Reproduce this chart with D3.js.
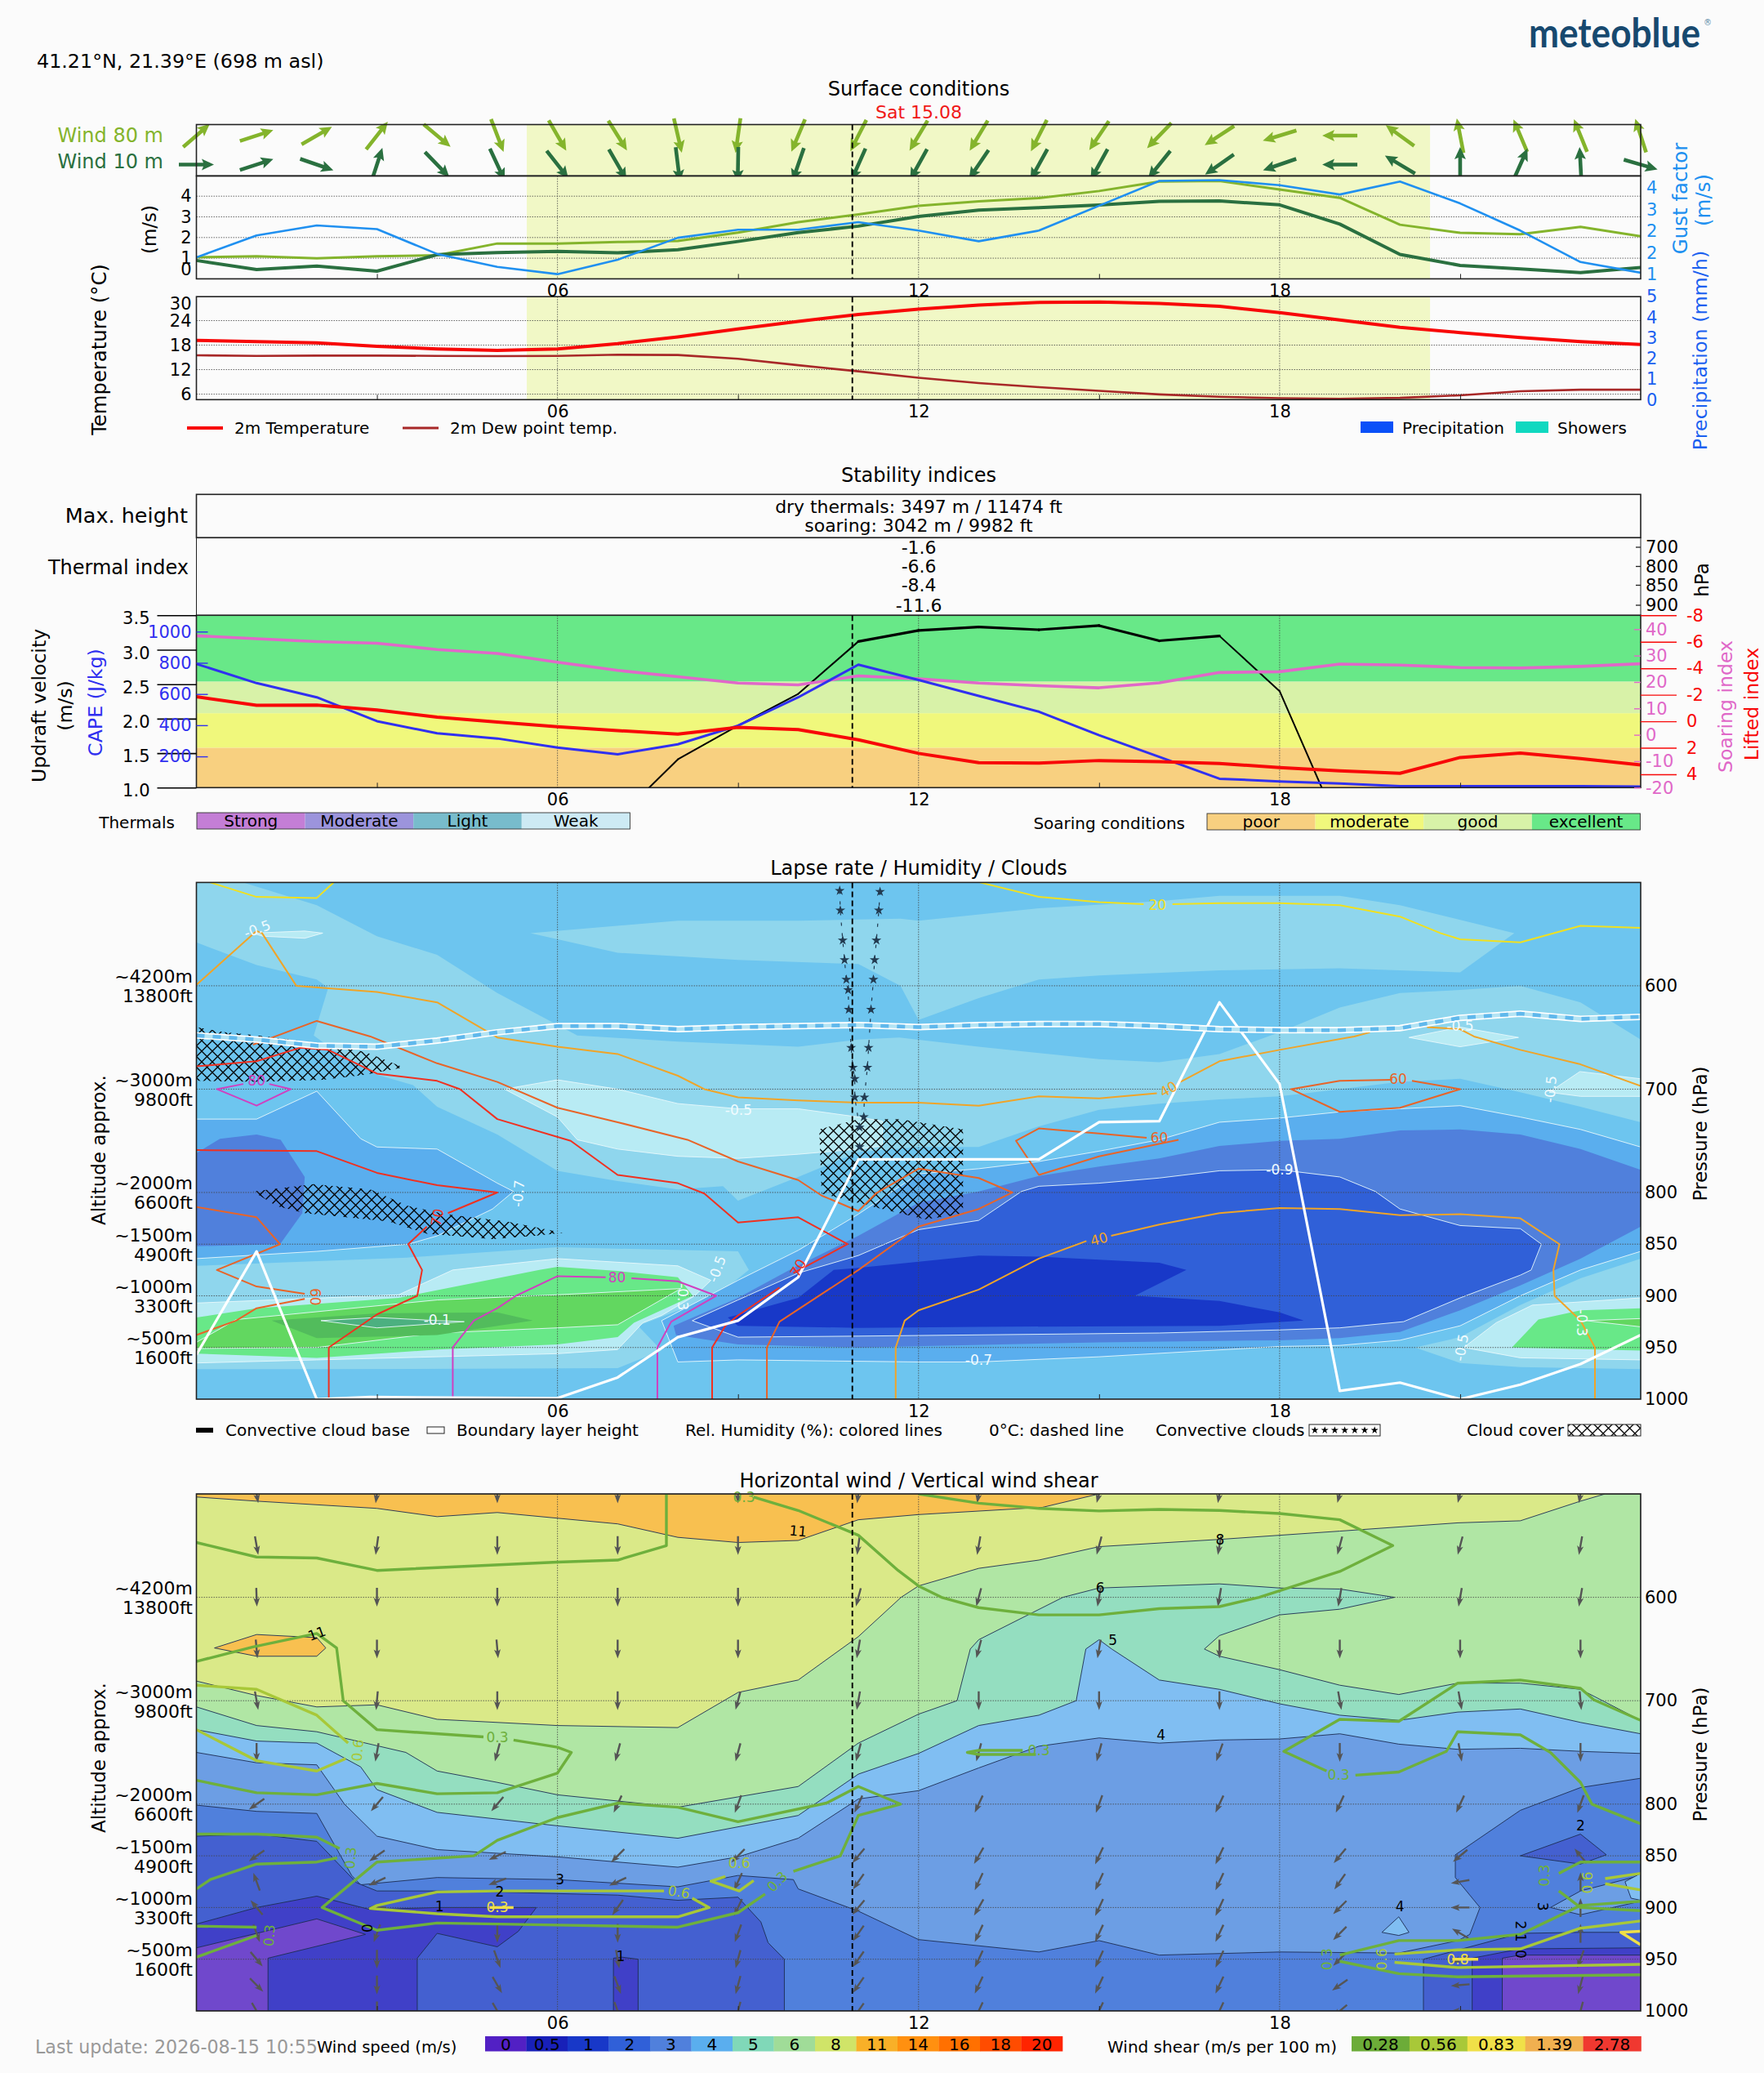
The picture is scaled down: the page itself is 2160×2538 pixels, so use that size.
<!DOCTYPE html>
<html><head><meta charset="utf-8">
<script src="https://cdn.jsdelivr.net/npm/d3@7"></script>
<style>html,body{margin:0;padding:0;background:#fbfbfb}svg{display:block}text{font-family:"DejaVu Sans",sans-serif}</style>
</head><body><div id="chart"></div>
<script>
// ---------- hourly series ----------
const hours = d3.range(0,25);
const dir80 = [49,72,60,38,130,159,150,148,167,188,203,207,211,211,207,214,224,237,253,270,306,349,337,338,342];
const dir10 = [90,72,109,18,136,155,142,150,173,181,199,204,209,214,209,209,219,235,251,270,301,0,24,357,106];
const wind80 = [1.04,1.09,0.99,1.09,1.14,1.71,1.71,1.78,1.83,2.24,2.74,3.12,3.53,3.75,3.91,4.25,4.71,4.74,4.32,3.92,2.62,2.23,2.16,2.52,2.06];
const wind10 = [0.89,0.45,0.62,0.37,1.17,1.27,1.33,1.26,1.41,1.81,2.24,2.55,3.02,3.33,3.44,3.57,3.75,3.77,3.58,2.65,1.18,0.65,0.48,0.30,0.55];
const gust = [1.59,2.35,2.70,2.57,1.71,1.26,1.01,1.51,2.27,2.55,2.55,2.81,2.52,2.15,2.52,3.38,4.24,4.27,4.09,3.77,4.22,3.46,2.52,1.43,1.06];
const temp2m = [19.14,18.86,18.57,17.71,17.07,16.71,17.07,18.36,20,21.93,23.79,25.5,26.79,27.79,28.43,28.57,28.21,27.5,25.93,24.14,22.36,21.07,19.86,18.86,18.14];
const dew2m = [15.5,15.36,15.43,15.43,15.36,15.29,15.36,15.64,15.57,14.64,13.07,11.57,10,8.71,7.71,6.79,5.93,5.36,5,4.86,5.07,5.71,6.71,7.07,7.07];
const capeVals = [793,670,579,426,348,315,257,214,278,397,579,788,690,588,487,336,197,57,40,26,10,9,9,9,7];
const soaringVals = [37.5,36.4,35.3,34.7,32.3,30.8,27.5,24.4,22,19.6,18.9,22.3,21.2,19.6,18.6,17.8,19.7,23.6,23.9,26.8,26.4,25.5,25.3,25.9,26.9];
const liftedVals = [-1.85,-1.21,-1.23,-0.86,-0.31,0.06,0.41,0.70,0.97,0.45,0.62,1.40,2.42,3.12,3.16,2.96,3.04,3.18,3.49,3.74,3.92,2.73,2.40,2.81,3.29];
const updraftVals = [0,0,0,0,0,0,0,0.55,1.41,1.90,2.36,3.12,3.28,3.33,3.29,3.35,3.13,3.20,2.40,0.4,0,0,0,0,0];
const nowHour = 10.9, dayStart = 5.49, dayEnd = 20.5;
const thermalIdx = [["-1.6",700],["-6.6",800],["-8.4",850],["-11.6",900]];
const soarBands = [[1.0,1.58,"#f8d080"],[1.58,2.08,"#f0f87c"],[2.08,2.54,"#d8f2a8"],[2.54,3.5,"#68e888"]];
const thermalsLegend = [["Strong","#c47ed6"],["Moderate","#9c94dc"],["Light","#78bccc"],["Weak","#cdeaf4"]];
const soarLegend = [["poor","#f8d080"],["moderate","#f0f87c"],["good","#d8f2a8"],["excellent","#68e888"]];
const altTicks = [600,700,800,850,900,950];
const altM = ["~4200m","~3000m","~2000m","~1500m","~1000m","~500m"];
const altF = ["13800ft","9800ft","6600ft","4900ft","3300ft","1600ft"];
const pTicks = [600,700,800,850,900,950,1000];

// ---------- lapse rate regions: [hour, hPa] ----------
const cBase="#6dc5ef",cL1="#8fd6ed",cL2="#b8ebf4",cG1="#68e888",cG2="#62d760",cG3="#52bc5c",cG4="#4cb080",cB1="#5aaeee",cB2="#5080dc",cB3="#3060d8",cB4="#1838c8";
const lrUpper=[[5.55,549],[8,537],[10,537],[11.7,535],[12,537],[14,525],[16,518],[17,513],[19,513],[20,522],[21.9,549],[21,587],[19,583],[17,585],[15,590],[14,594],[13,612],[12,633],[11.7,600],[11,579],[9,575],[7,568]];
const lrDiag=[[0,500],[.78,500],[2,522],[3,552],[4,570],[5,607],[6.33,648],[8,654],[10,659],[11,652],[11.68,650],[13,659],[15,671],[16,674],[17,666],[18,645],[19,621],[20,607],[21,604],[22,600],[23,616],[24,652],[24,732],[23,717],[22,703],[21,690],[20,693],[19,700],[18,707],[17,710],[16,714],[15,720],[14,736],[13,756],[12,756],[11,761],[10,785],[9,808],[8.75,794],[8,797],[7,789],[6,779],[5,744],[4,717],[3.6,696],[3,686],[2.27,662],[1.95,648],[2.19,602],[2,594],[1,580],[0,558]];
const lrBand=[[0,871],[3.5,863],[6,853],[9,857],[9.18,875],[8.64,900],[7.34,929],[7.73,953],[7,970],[2,971],[0,971]];
const lrRightL1=[[24,864],[23,883],[22,909],[21,940],[20.25,950],[21,965],[22,969],[24,971]];
const lrLens=[[5.12,700],[6,691],[7,700],[8,714],[9,719],[10,719],[11,727],[11.4,731],[11.4,755],[11,758],[10,763],[9,767],[8,765],[7,758],[6.33,749],[6,727]];
const lrBandL2=[[0,907],[3.36,899],[4.26,875],[6,864],[8,871],[8.55,885],[8.28,900],[7.73,919],[7.42,926],[7,952],[6,956],[2,962],[0,965]];
const lrRightL2=[[24,902],[22.2,909],[21.6,926],[21.06,950],[22,960],[24,962]];
const lrSmallA=[[20.15,650],[21,640],[21.97,650],[21,659]];
const lrSmallB=[[22.48,703],[22.99,683],[24,690],[24,707],[23,707]];
const lrSmallC=[[.94,549],[1.8,547],[2.1,549],[1.8,554],[1.1,552]];
const lrGreen1=[[0,921],[1,912],[3.36,902],[5.7,875],[6,872],[7,876],[8,882],[8.25,900],[7.27,926],[7,940],[6,947],[4,952],[2,960],[0,956]];
const lrGreen2=[[0,945],[.66,923],[4,904],[6,899],[8.05,893],[7,928],[6,931],[4,936],[2,950],[0,951]];
const lrGreen3=[[1.25,924],[3,917],[5,916],[5.59,924],[4,938],[2,941]];
const lrGreen4=[[2.07,924],[3,921],[4,924],[4.45,925],[3,931]];
const lrRightG1=[[24,912],[23,914],[22.3,923],[21.86,950],[24,953]];
const lrRightG2=[[24,922],[23.09,924],[24,930]];
const lrLeftB1=[[0,729],[1,729],[2,702],[2.73,748],[3,756],[4,758],[5,791],[5.27,799],[4.92,816],[4,842],[3.52,850],[2,857],[0,864]];
const lrLeftB2=[[0,762],[.39,748],[1,744],[1.4,749],[1.8,785],[1.76,820],[1.39,850],[0,852]];
const lrMidB1=[[7.73,924],[9,885],[10,856],[11,821],[12,782],[13,777],[14,770],[15,760],[16,749],[17,732],[18,728],[19,722],[20,719],[21,716],[22,727],[23,739],[24,756],[24,857],[23,875],[22,900],[21,929],[20,943],[19,948],[18,949],[15,959],[13,964],[12,964],[9,962],[8,964]];
const lrMidB2=[[7.93,929],[9,902],[9.92,873],[11,842],[12,810],[13,799],[14,784],[15,775],[16,767],[17,755],[18,750],[19,748],[20,740],[21,739],[22,744],[23,758],[24,778],[24,833],[23,864],[22,890],[21,914],[20,935],[19,941],[18,943],[15,945],[11,950],[9,947],[7.97,938]];
const lrMidB3=[[8.24,924],[9,904],[10,878],[11,861],[12,836],[13,827],[13.71,799],[14,794],[15,791],[16,786],[17,779],[18,778],[19,785],[19.59,799],[20,816],[21,832],[22,835],[22.35,850],[22.18,875],[22,880],[21,902],[20.06,925],[19,931],[18,933],[16,936],[11,939],[9,940]];
const lrMidB4=[[8.83,921],[10,902],[10.59,875],[11,873],[13,861],[14,862],[16,868],[16.45,875],[15.59,900],[17,905],[18,916],[18.4,924],[17,929],[13,930],[11,931],[10,930],[9,929]];
const lapseLayers=[[lrUpper,cL1,0],[lrDiag,cL1,0],[lrBand,cL1,0],[lrRightL1,cL1,0],[lrLens,cL2,1],[lrBandL2,cL2,1],[lrRightL2,cL2,1],[lrSmallA,cL2,1],[lrSmallB,cL2,1],[lrSmallC,cL2,1],[lrGreen1,cG1,0],[lrRightG1,cG1,0],[lrGreen2,cG2,1],[lrRightG2,cG2,1],[lrGreen3,cG3,0],[lrGreen4,cG4,1],[lrLeftB1,cB1,1],[lrLeftB2,cB2,0],[lrMidB1,cB1,1],[lrMidB2,cB2,0],[lrMidB3,cB3,1],[lrMidB4,cB4,0]];
const lapseLabels=[["-0.5",1.01,545,-20],["-0.5",9.01,720,0],["-0.7",5.35,801,-85],["-0.1",4,923,0],["-0.3",8.08,901,90],["-0.5",8.65,874,-70],["-0.5",21,639,0],["-0.5",22.5,700,-85],["-0.9",18,778,0],["-0.7",13,962,0],["-0.5",21.02,950,-80],["-0.3",23.02,926,90]];

// ---------- relative humidity isolines ----------
const rhY1=[[.23,500],[1,514],[2,515],[2.28,500]];
const rhY2=[[13.02,500],[14,514],[15,519],[15.74,521]];
const rhY3=[[16.22,521],[17,520],[18,520],[19,522],[20,533],[20.67,549],[21,555],[22,558],[23,542],[24,544]];
const rhO1=[[0,599],[1,547],[1.09,549],[1.66,600],[3,606],[4,616],[5,650],[6,659],[7,666],[8,687],[8.44,700],[9,708],[10,711],[11,713],[12,713],[13,716],[14,707],[15,709],[15.96,704]];
const rhO2=[[16.35,693],[17,673],[18,662],[19.24,649],[19.5,645]];
const rhO3=[[20.45,640],[21,642],[21.23,649],[22,662],[23,676],[24,697]];
const rhO4=[[11.62,1000],[11.62,950],[11.77,924],[12,914],[13,894],[14,864],[14.79,847]];
const rhO5=[[15.2,842],[16,831],[17,820],[18,815],[19,816],[20,822],[21,821],[22,825],[22.65,850],[22.55,875],[22.57,900],[23,924],[23.24,950],[23.24,1000]];
const rh50=[[.94,657],[2,634],[2.89,649],[4,675],[5,693],[6,718],[7,732],[8.16,749],[9,770],[10,788],[10.39,803],[11,818],[11.29,801],[12,777],[13,786],[13.56,800],[13,816],[12,833],[11,875],[9.69,925],[9.48,950],[9.48,1000]];
const rhR1=[[0,678],[1,673],[1.72,660],[2.19,662],[3,685],[4,692],[4.38,700],[5,729],[6.22,750],[7,783],[8,791],[8.44,801],[9,829],[10,824],[10.82,850],[9.92,878]];
const rhR2=[[9.69,892],[9,919],[8.79,929],[8.57,950],[8.57,1000]];
const rhR3=[[0,759],[2,760],[3,781],[4,793],[5,800],[4.18,820]];
const rhR4=[[3.83,833],[3.52,850],[3.75,875],[3.67,900],[3,918],[2.2,950],[2.2,1000]];
const rh60A=[[1.8,898],[1,891],[.34,875],[1.39,850],[1,824],[0,814]];
const rh60B=[[1.8,903],[1,912],[.66,924],[0,938]];
const rh60C=[[15.79,747],[15,743],[14,738],[13.62,750],[14,783],[15,765],[16.32,749]];
const rh60D=[[19.87,691],[19,692],[18.19,700],[19,722],[20,718],[21,700],[20.2,692]];
const rhM1=[[1.21,695],[1.57,700],[1,716],[.34,700],[.78,695]];
const rhM2=[[7.66,1000],[7.66,950],[7.89,925],[8.64,900],[8,886],[7.23,883]];
const rhM3=[[6.8,882],[6,881],[5.31,900],[5,912],[4.61,924],[4.26,950],[4.26,1000]];
const cY="#f0e020",cO="#f0a428",cOR="#e86428",cR="#f03020",cM="#d040c0";
const rhLines=[[rhY1,cY],[rhY2,cY],[rhY3,cY],[rhO1,cO],[rhO2,cO],[rhO3,cO],[rhO4,cO],[rhO5,cO],[rh50,cOR],[rhR1,cR],[rhR2,cR],[rhR3,cR],[rhR4,cR],[rh60A,cOR],[rh60B,cOR],[rh60C,cOR],[rh60D,cOR],[rhM1,cM],[rhM2,cM],[rhM3,cM]];
const rhLabels=[["20",15.97,522,0,cY],["40",16.15,700,-30,cO],["40",15,845,-15,cO],["60",19.97,690,0,cOR],["60",16,747,0,cOR],["60",1.98,901,90,cOR],["70",10,873,-60,cR],["70",4,824,-80,cR],["80",6.99,882,0,cM],["80",1,692,0,cM]];
const blh=[[0,957],[1,857],[2,1000],[2.89,998],[6,999],[7,979],[8,940],[9,924],[10,882],[11,768],[12,768],[13,768],[14,768],[15,732],[16,731],[17,616],[18,695],[19,992],[20,984],[21,1000],[22,986],[23,966],[24,938]];
const freezing=[[0,648],[1,652],[2,658],[3,659],[4,653],[5,645],[6,639],[7,639],[8,642],[9,640],[10,639],[11,638],[12,640],[13,638],[14,637],[15,637],[16,639],[17,642],[18,643],[19,643],[20,641],[21,631],[22,627],[23,632],[24,630]];
const cloudA=[[0,640],[.47,645],[1.02,648],[1.95,655],[2.81,664],[3.44,679],[2.81,686],[2.11,691],[1.02,693],[0,692]];
const cloudB=[[.94,799],[1.95,792],[2.89,797],[3.52,813],[4.14,821],[5.16,828],[6.09,839],[5.63,842],[4.92,845],[3.83,840],[3.2,828],[1.8,820],[1.33,813]];
const cloudC=[[10.35,739],[11,729],[11.7,729],[12.74,739],[12.74,821],[12.11,826],[11.33,815],[10.39,801]];
const starsLeft=[[10.69,508],[10.7,527],[10.74,556],[10.77,575],[10.8,594],[10.83,604],[10.84,623],[10.88,660],[10.91,679],[10.94,690],[10.94,708],[11.02,737],[11.02,756]];
const starsRight=[[11.36,509],[11.34,527],[11.3,556],[11.27,575],[11.25,594],[11.21,623],[11.17,660],[11.15,679],[11.1,708],[11.09,727]];

// ---------- wind speed regions ----------
const c8="#dae988",c11="#f8c050",c6="#b0e6a4",c5="#94dec0",c4="#80bef2",c3="#6c9ee4",c2="#5080dc",c1="#4460d0",c05="#4040c8",c0="#7048cc";
const wsOrange=[[0,500],[0,503],[1,507],[3,514],[4,522],[5,518],[7,529],[8,542],[9,547],[10,545],[11,525],[12,520],[14.06,513],[15,500]];
const wsOrangeB=[[.3,649],[1,636],[2,639],[2.15,649],[2,657],[1,657]];
const ws6=[[0,681],[1,695],[2,706],[3,704],[4,718],[6,724],[8,726],[9,692],[10,680],[11,638],[11.71,600],[12,589],[13,572],[14,564],[15,551],[17,544],[19,536],[20.96,528],[22,526],[23,507],[23.41,500],[24,500],[24,1000],[0,1000]];
const ws5=[[0,706],[1,724],[2,730],[3.48,750],[4,768],[5,779],[6,791],[8,803],[9,793],[10,783],[11,741],[12,713],[12.64,700],[12.86,650],[13,641],[14.4,600],[15,591],[17,587],[18,591],[19,592],[19.91,600],[19,611.5],[18,617],[17,637],[16.75,650],[17,657],[18,670],[19,685],[19.98,694],[20.96,683],[22,683],[23,689],[24,719],[24,1000],[0,1000]];
const ws4=[[0,728],[1,739],[2,741],[2.73,764],[3,786],[4,808],[6,821],[8,833],[10,811],[11,771],[12,751],[13,724],[14,714],[14.62,700],[14.78,650],[15,641],[15.21,650],[16,680],[17,689],[18,703],[19,714],[19.98,719],[20.96,711],[22,708],[23,721],[24,732],[24,1000],[0,1000]];
const ws3=[[0,750],[1,760],[2,762],[2.46,800],[3,831],[4,844],[6,851],[8,861],[9,851],[10,833],[11,795],[12,787],[13,765],[14,744],[15,736],[16,741],[17,738],[18,737],[19,732],[19.98,742],[20.96,747],[22,746],[23,749],[24,751],[24,1000],[0,1000]];
const ws2=[[0,801],[1,807],[2,809],[2.58,869],[2.73,878],[4,871],[6,873],[8,880],[9,869],[9.92,873],[10,882],[11,903.5],[12,931],[14,943],[15,932],[16,946],[18,943],[19.98,944],[20.96,932],[21.16,926],[21.33,900],[20.92,871],[20.92,849],[22,806],[23,784],[24,775],[24,1000],[0,1000]];
const ws1a=[[0,831],[1,829],[2,836],[2.66,876],[3,884],[4,884],[5,885],[7,888],[8,893],[9,890],[9.38,914],[9.5,934],[9.77,950],[9.77,1000],[0,1000]];
const ws1b=[[20.39,950],[22,925],[23,924],[24,924],[24,1000],[20.39,1000]];
const ws05a=[[0,916],[1,900],[2,889],[2.89,902],[4,900],[5.65,900],[5.35,923],[5,938],[4,925],[3.67,949],[3.67,1000],[0,1000]];
const ws05b=[[6.93,949],[7.07,948],[7.34,950],[7.34,1000],[6.93,1000]];
const ws05c=[[21.2,949],[22,940],[24,939],[24,1000],[21.2,1000]];
const ws0a=[[0,939],[2,911],[2.81,926],[1.19,949],[1.19,1000],[0,1000]];
const ws0b=[[21.7,949],[22,946],[24,946],[24,1000],[21.7,1000]];
const wsIsl2=[[22,850],[23,829],[23.43,849],[23,858]];
const wsIsl3=[[22.5,900],[23,884],[24,869],[24,894],[23,907]];
const wsIsl4a=[[23.74,875],[24,867],[24,893],[23.84,891]];
const wsIsl4b=[[19.7,924],[19.98,909],[20.15,924],[19.98,927]];
const windLayers=[[wsOrange,c11],[wsOrangeB,c11],[ws6,c6],[ws5,c5],[ws4,c4],[ws3,c3],[ws2,c2],[wsIsl2,c1],[wsIsl3,c3],[wsIsl4a,c4],[wsIsl4b,c4],[ws1a,c1],[ws1b,c1],[ws05a,c05],[ws05b,c05],[ws05c,c05],[ws0a,c0],[ws0b,c0]];
const windLabels=[["11",10,536,5],["11",2,635,-20],["3",6.04,873,0],["2",5.04,885,0],["1",4.04,899,0],["0",2.83,920,90],["1",7.05,947,0],["8",17.01,544,0],["6",15.02,591,0],["5",15.23,641,0],["4",16.03,733,0],["2",23,821,0],["4",20,899,0],["3",22.37,899,90],["2",22,917,90],["1",22,929,90],["0",22,945,90]];

// ---------- wind shear isolines ----------
const cS3="#6eb03c",cS6="#a8c838",cS8="#f0e048";
const sA=[[0,547],[1,561],[2,562],[3,574],[6,566],[7,564],[7.81,550],[7.81,500]];
const sB=[[9.26,503],[10,516],[11,540],[11.66,574],[12,589],[12.38,600],[13,610],[14,617],[15,617],[16,611],[17,609],[17.66,600],[19,575],[19.88,550],[19,525],[18,519],[17,516],[16,515],[15,516.5],[14,514],[13,509],[12,500]];
const sC1=[[0,662],[.94,648],[2,635],[2.33,649],[2.44,700],[3,728],[4.77,735]];
const sC2=[[5.27,738],[6,745],[6.23,750],[6,770],[5,789],[4,790],[3,780],[2,791],[1,789],[0,777]];
const sD1=[[0,685],[1,689],[2,714],[2.52,741]];
const sD2=[[2.48,756],[2,768],[1,758],[0,728]];
const sE1=[[2.38,843],[2,832],[1,829],[0,829]];
const sE2=[[2.34,852],[2,856],[1,858],[.23,873],[0,882]];
const sF=[[9.92,865],[10.7,850],[11,811],[11.7,800],[11,783],[10.47,799],[9,817],[8,803],[7,799],[6,813],[5,835],[4.61,850],[3,856],[2.09,900],[3,922],[4,915],[6,917],[8,919],[9,905],[9.45,887]];
const sG=[[7.77,884],[7,884],[5,884],[4,885],[3,898],[2.89,901],[4,906],[5,909],[8,909],[8.52,900],[8.24,891]];
const sH=[[8.79,870],[8.55,874.5],[9.02,884],[9.26,874]];
const sI1=[[0,918],[1,919]];
const sI2=[[1,927],[0,948]];
const sJ=[[13.73,748],[13,748],[12.81,750],[13,752],[13.95,752]];
const sK1=[[19.26,772],[19.98,769],[20.77,749],[20.96,730],[22,733],[22.5,750],[23,779],[23.19,800],[24,819]];
const sK2=[[18.78,768],[18.07,749],[19,718],[19.98,720],[20.96,683],[22,680],[23,688],[23.22,699],[24,719]];
const sL1=[[19,946],[19.98,932],[20.96,932],[22,926],[23,898],[24,894]];
const sL2=[[19,952],[19.98,964],[20.96,967],[24,965]];
const sM1=[[19.91,945],[20.96,941],[22,940],[23,920],[24,913]];
const sM2=[[19.91,953],[20.96,958],[24,955]];
const sN1=[[22.64,867],[23,856],[24,856]];
const sN2=[[22.64,884],[23,900],[24,903]];
const sO1=[[23.41,872],[24,867]];
const sO2=[[23.41,877],[24,883]];
const sP=[[24,923],[23.67,924],[24,936]];
const sQ=[[20.87,950],[21.3,950]];
const sR=[[4.87,900],[5.27,900]];
const shearLines=[[sA,cS3],[sB,cS3],[sC1,cS3],[sC2,cS3],[sE1,cS3],[sE2,cS3],[sF,cS3],[sI1,cS3],[sI2,cS3],[sJ,cS3],[sK1,cS3],[sK2,cS3],[sL1,cS3],[sL2,cS3],[sN1,cS3],[sN2,cS3],[sD1,cS6],[sD2,cS6],[sG,cS6],[sH,cS6],[sM1,cS6],[sM2,cS6],[sO1,cS6],[sO2,cS6],[sP,cS8],[sQ,cS8],[sR,cS8]];
const shearLabels=[["0.3",5,735,0,cS3],["0.6",2.68,748,-85,cS6],["0.3",2.56,852,-85,cS3],["0.3",9.65,875,-45,cS3],["0.3",9.1,503,0,cS3],["0.6",8.02,885,10,cS6],["0.6",9.02,857,0,cS6],["0.3",1.21,927,-85,cS3],["0.3",5,900,0,cS8],["0.3",14,748,0,cS3],["0.3",18.98,772,0,cS3],["0.3",18.79,950,-90,cS3],["0.6",19.7,950,-90,cS6],["0.3",22.4,869,-90,cS3],["0.6",23.12,876,-90,cS6],["0.8",20.96,950,0,cS8]];

// ---------- horizontal wind field (arrow bearing per level, hours 1,3,...,23) ----------
const arrowHours=[1,3,5,7,9,11,13,15,17,19,21,23];
const arrowLevels=[500,550,600,650,700,750,800,850,875,900,925,950,975,1000];
const arrowDirs=[
[170,188,180,180,180,188,190,195,190,195,195,190],
[170,188,180,180,180,188,190,195,190,195,195,190],
[178,180,180,180,180,195,195,190,190,190,190,190],
[175,180,175,180,180,190,195,190,180,180,180,180],
[170,185,180,180,195,190,180,180,180,170,170,175],
[180,190,195,195,195,195,195,195,200,180,170,180],
[235,220,220,205,200,205,205,200,205,205,205,200],
[235,235,245,225,225,220,210,205,205,220,230,320],
[340,245,250,245,205,215,205,205,205,215,260,0],
[320,270,270,215,205,220,210,205,205,225,270,0],
[160,200,180,180,200,215,205,205,205,225,300,0],
[140,180,160,170,195,215,205,205,205,225,250,200],
[135,180,150,160,195,215,205,205,205,235,265,195],
[150,180,150,160,195,215,205,205,205,230,270,195]];

// ---------- colour bars ----------
const speedBar=[["0","#5220c4"],["0.5","#1820b8"],["1","#1838c8"],["2","#3060d8"],["3","#5080dc"],["4","#5aaeee"],["5","#80d8b8"],["6","#a0dc98"],["8","#d0e468"],["11","#f8b028"],["14","#ff9010"],["16","#ff7000"],["18","#ff4c00"],["20","#ff2400"]];
const shearBar=[["0.28","#6cac38"],["0.56","#a8c838"],["0.83","#f0e048"],["1.39","#f0b050"],["2.78","#f03830"]];

// ==================== drawing ====================
const W=2160,H=2538,BG="#fbfbfb";
const svg=d3.select("#chart").append("svg").attr("width",W).attr("height",H).attr("viewBox",`0 0 ${W} ${H}`);
svg.append("rect").attr("width",W).attr("height",H).attr("fill",BG);
const defs=svg.append("defs");
const hp=defs.append("pattern").attr("id","hatch").attr("patternUnits","userSpaceOnUse").attr("width",13).attr("height",13);
hp.append("path").attr("d","M0,0L13,13M13,0L0,13M-1,12L1,14M12,-1L14,1").attr("stroke","#000").attr("stroke-width",1.3).attr("fill","none");

const L=240.5,R=2009;
const x=d3.scaleLinear().domain([0,24]).range([L,R]);
const FS=21, FL=20, FT=24, FC=17;
function txt(g,s,px,py,o={}){
  const t=g.append("text").text(s).attr("x",px).attr("y",py).attr("font-size",o.fs||FS).attr("fill",o.c||"#000")
    .attr("text-anchor",o.a||"middle").attr("dominant-baseline","central");
  if(o.rot!==undefined) t.attr("transform",`rotate(${o.rot},${px},${py})`);
  if(o.w) t.attr("font-weight",o.w);
  return t;
}
function clip(id,y0,y1){
  defs.append("clipPath").attr("id",id).append("rect").attr("x",L).attr("y",y0).attr("width",R-L).attr("height",y1-y0);
}
function frame(g,y0,y1){g.append("rect").attr("x",L).attr("y",y0).attr("width",R-L).attr("height",y1-y0).attr("fill","none").attr("stroke","#222").attr("stroke-width",1.6);}
function vgrid(g,y0,y1){
  g.selectAll(null).data([6,12,18]).join("line").attr("x1",x).attr("x2",x).attr("y1",y0).attr("y2",y1)
   .attr("stroke","#444").attr("stroke-width",.8).attr("stroke-dasharray","1.5 1.5");
}
function hgrid(g,scale,vals){
  g.selectAll(null).data(vals).join("line").attr("x1",L).attr("x2",R).attr("y1",scale).attr("y2",scale)
   .attr("stroke","#444").attr("stroke-width",.8).attr("stroke-dasharray","1.5 1.5");
}
function xaxis(g,y1){
  const a=g.append("g").attr("transform",`translate(0,${y1})`).call(d3.axisBottom(x).tickValues([6,12,18]).tickFormat(d3.format("02d")).tickSize(0).tickPadding(7));
  a.select(".domain").remove(); a.selectAll("text").attr("font-size",FS).attr("font-family",'"DejaVu Sans"').attr("fill","#000");
  const b=g.append("g").attr("transform",`translate(0,${y1})`).call(d3.axisBottom(x).tickValues([3,9,15,21]).tickFormat("").tickSize(-6));
  b.select(".domain").remove(); b.selectAll("line").attr("stroke","#222");
}
function nowLine(g,y0,y1){
  g.append("line").attr("x1",x(nowHour)).attr("x2",x(nowHour)).attr("y1",y0).attr("y2",y1).attr("stroke","#000").attr("stroke-width",1.9).attr("stroke-dasharray","7 4");
}
function yaxis(g,fn,scale,vals,color,xpos,labels,size,pad){
  const a=g.append("g").attr("transform",`translate(${xpos},0)`).call(fn(scale).tickValues(vals).tickSize(size).tickPadding(pad).tickFormat((d,i)=>labels?labels[i]:d));
  a.select(".domain").remove(); a.selectAll("line").attr("stroke",color).attr("stroke-width",1.4);
  a.selectAll("text").attr("font-size",FS).attr("font-family",'"DejaVu Sans"').attr("fill",color);
  return a;
}
function arrowD(len,sw,hw,hl){const t=-len/2,b=len/2;return `M${-sw/2},${b}L${-sw/2},${t+hl}L${-hw/2},${t+hl+2}L0,${t}L${hw/2},${t+hl+2}L${sw/2},${t+hl}L${sw/2},${b}Z`;}

// ---------- header ----------
txt(svg,"41.21°N, 21.39°E (698 m asl)",45,75,{a:"start",fs:23.8});
svg.append("text").text("meteoblue").attr("x",1872).attr("y",58).attr("font-size",49).attr("fill","#17496f").attr("font-weight","bold").style("font-family","Lato").attr("textLength",210).attr("lengthAdjust","spacingAndGlyphs");
txt(svg,"®",2091,27,{fs:10,c:"#5a8aa8"});
txt(svg,"Surface conditions",1125,109,{fs:FT});
txt(svg,"Sat 15.08",1125,137,{fs:22,c:"#f01818"});

// ---------- panel A: surface ----------
const pA=svg.append("g");
[[152.5,215.4],[215.4,341.4],[363.2,489.3]].forEach(([a,b])=>{
  pA.append("rect").attr("x",x(dayStart)).attr("width",x(dayEnd)-x(dayStart)).attr("y",a).attr("height",b-a).attr("fill","#f1f8c6");
});
const yW=d3.scaleLinear().domain([0,4]).range([341.4,240.2]);
const yG=d3.scaleLinear().domain([1,4]).range([336,230]);
const yT=d3.scaleLinear().domain([6,30]).range([482.5,362.5]);
const yPr=d3.scaleLinear().domain([0,5]).range([489.3,363.2]);
const line=(xf,yf)=>d3.line().x(xf).y(yf);
hgrid(pA,yW,[1,2,3,4]); hgrid(pA,yT,[6,12,18,24]);
vgrid(pA,215.4,341.4); vgrid(pA,363.2,489.3);
clip("cW",215.4,341.4); clip("cT",363.2,489.3);
defs.append("clipPath").attr("id","cBarb").append("rect").attr("x",0).attr("y",100).attr("width",W).attr("height",115.4);
const pL=(g,cl,vals,sc,c,w)=>g.append("path").attr("clip-path",`url(#${cl})`).attr("d",line((d,i)=>x(i),d=>sc(d))(vals)).attr("fill","none").attr("stroke",c).attr("stroke-width",w).attr("stroke-linejoin","round");
pL(pA,"cW",wind80,yW,"#84b42c",3);
pL(pA,"cW",wind10,yW,"#2a7040",4);
pL(pA,"cW",gust,yG,"#2090f0",2.6);
pL(pA,"cT",temp2m,yT,"#f80808",4);
pL(pA,"cT",dew2m,yT,"#a82828",2.6);
// wind arrows
const barb=arrowD(43,4.6,14,13);
const gBarb=pA.append("g").attr("clip-path","url(#cBarb)");
gBarb.selectAll(null).data(dir80).join("path").attr("d",barb).attr("fill","#84b42c").attr("transform",(d,i)=>`translate(${x(i)},166) rotate(${d})`);
gBarb.selectAll(null).data(dir10).join("path").attr("d",barb).attr("fill","#2a7040").attr("transform",(d,i)=>`translate(${x(i)},201.5) rotate(${d})`);
frame(pA,152.5,215.4); frame(pA,215.4,341.4); frame(pA,363.2,489.3);
nowLine(pA,152.5,341.4); nowLine(pA,363.2,489.3);
xaxis(pA,341.4); xaxis(pA,489.3);
txt(pA,"Wind 80 m",200,166,{a:"end",fs:24,c:"#84b42c"});
txt(pA,"Wind 10 m",200,198,{a:"end",fs:24,c:"#2a7040"});
const aW=yaxis(pA,d3.axisLeft,yW,[0,1,2,3,4],"#000",L,null,0,6);
aW.selectAll("text").filter(d=>d===0).attr("dy","-0.22em");
const aT=yaxis(pA,d3.axisLeft,yT,[6,12,18,24,30],"#000",L,null,0,6);
aT.selectAll("text").filter(d=>d===30).attr("dy","0.75em");
yaxis(pA,d3.axisRight,yG,[1,1.75,2.5,3.25,4],"#2090f0",R,["1","2","2","3","4"],0,7);
yaxis(pA,d3.axisRight,yPr,[0,1,2,3,4,5],"#1a60f0",R,null,0,7);
txt(pA,"(m/s)",183,281,{rot:-90,fs:23});
txt(pA,"Temperature (°C)",121,428,{rot:-90,fs:24.3});
txt(pA,"Gust factor",2057,243,{rot:-90,fs:24.5,c:"#2090f0"});
txt(pA,"(m/s)",2085,245,{rot:-90,fs:24.5,c:"#2090f0"});
txt(pA,"Precipitation (mm/h)",2082,429,{rot:-90,fs:23.8,c:"#1a60f0"});
const lgY=524;
pA.append("line").attr("x1",229).attr("x2",273).attr("y1",lgY).attr("y2",lgY).attr("stroke","#f80808").attr("stroke-width",4);
txt(pA,"2m Temperature",287,lgY,{a:"start",fs:FL});
pA.append("line").attr("x1",493).attr("x2",537).attr("y1",lgY).attr("y2",lgY).attr("stroke","#a82828").attr("stroke-width",3);
txt(pA,"2m Dew point temp.",551,lgY,{a:"start",fs:FL});
pA.append("rect").attr("x",1666).attr("y",516).attr("width",40).attr("height",14).attr("fill","#0a50f8");
txt(pA,"Precipitation",1717,lgY,{a:"start",fs:FL});
pA.append("rect").attr("x",1856).attr("y",516).attr("width",40).attr("height",14).attr("fill","#10d8c0");
txt(pA,"Showers",1907,lgY,{a:"start",fs:FL});

// ---------- panel B: stability ----------
const pB=svg.append("g");
const sTop=753.3,sBot=964.3;
txt(pB,"Stability indices",1125,582,{fs:FT});
frame(pB,605.3,658.3);
pB.append("rect").attr("x",L).attr("y",658.3).attr("width",R-L).attr("height",95).attr("fill","none").attr("stroke","#222").attr("stroke-width",1);
txt(pB,"Max. height",230,631,{a:"end",fs:25.5});
txt(pB,"Thermal index",231,695,{a:"end",fs:24});
txt(pB,"dry thermals: 3497 m / 11474 ft",1125,620,{fs:21.9});
txt(pB,"soaring: 3042 m / 9982 ft",1125,643,{fs:21.9});
const yTh=d3.scaleOrdinal().domain([700,800,850,900]).range([670,693.5,716.5,741]);
thermalIdx.forEach(([s,p])=>txt(pB,s,1125,yTh(p),{fs:21.9}));
pB.selectAll(null).data(thermalIdx).join("line").attr("x1",R-6).attr("x2",R).attr("y1",d=>yTh(d[1])).attr("y2",d=>yTh(d[1])).attr("stroke","#222").attr("stroke-width",1.3);
pB.selectAll(null).data(thermalIdx).join("text").text(d=>d[1]).attr("x",R+6).attr("y",d=>yTh(d[1])).attr("font-size",FS).attr("dominant-baseline","central");
txt(pB,"hPa",2084,710,{rot:-90,fs:23});
const yU=d3.scaleLinear().domain([1,3.5]).range([sBot,sTop]);
const yC=d3.scaleLinear().domain([0,1000]).range([sBot,773.3]);
const yS=d3.scaleLinear().domain([-20,40]).range([sBot,770.3]);
const yLI=d3.scaleLinear().domain([4,-8]).range([948,sTop]);
pB.selectAll(null).data(soarBands).join("rect").attr("x",L).attr("width",R-L).attr("y",d=>yU(d[1])).attr("height",d=>yU(d[0])-yU(d[1])).attr("fill",d=>d[2]);
vgrid(pB,sTop,sBot);
clip("cS",sTop,sBot);
const gS=pB.append("g").attr("clip-path","url(#cS)");
updraftVals.slice(0,-1).forEach((v,i)=>{
  const v2=updraftVals[i+1],thick=v>=3&&v2>=3;
  gS.append("path").attr("d",d3.line()([[x(i),yU(v)],[x(i+1),yU(v2)]])).attr("stroke","#000").attr("fill","none").attr("stroke-linecap","round").attr("stroke-width",thick?3.2:2);
});
pL(pB,"cS",soaringVals,yS,"#e068c8",3.6);
pL(pB,"cS",capeVals,yC,"#3030f0",3);
pL(pB,"cS",liftedVals,yLI,"#f80808",4);
frame(pB,sTop,sBot);
nowLine(pB,sTop,sBot);
xaxis(pB,sBot);
const aU=yaxis(pB,d3.axisLeft,yU,[1,1.5,2,2.5,3,3.5],"#000",L,["1.0","1.5","2.0","2.5","3.0","3.5"],48,2);
aU.selectAll("text").attr("x",-57).attr("dy","0.5em");
aU.selectAll("line").attr("stroke-width",1.6);
yaxis(pB,d3.axisLeft,yC,[200,400,600,800,1000],"#3030f0",L,null,-14,6);
yaxis(pB,d3.axisRight,yS,[-20,-10,0,10,20,30,40],"#e068c8",R,null,-8,6);
const aLI=yaxis(pB,d3.axisRight,yLI,[-8,-6,-4,-2,0,2,4],"#f80808",R,null,44,2);
aLI.selectAll("text").attr("x",56).attr("text-anchor","start");
txt(pB,"Updraft velocity",48,864,{rot:-90,fs:23.6});
txt(pB,"(m/s)",80,864,{rot:-90,fs:23.6});
txt(pB,"CAPE (J/kg)",117,860,{rot:-90,fs:23.7,c:"#3030f0"});
txt(pB,"Soaring index",2113,865,{rot:-90,fs:23.6,c:"#e068c8"});
txt(pB,"Lifted index",2145,862,{rot:-90,fs:23.6,c:"#f80808"});
txt(pB,"Thermals",214,1007,{a:"end",fs:FL});
const legendRow=(arr,x0,y0,y1,w)=>{arr.forEach(([s,c],i)=>{
  pB.append("rect").attr("x",x0+i*w).attr("y",y0).attr("width",w).attr("height",y1-y0).attr("fill",c);
  txt(pB,s,x0+i*w+w/2,(y0+y1)/2,{fs:FL});
});
 pB.append("rect").attr("x",x0).attr("y",y0).attr("width",w*arr.length).attr("height",y1-y0).attr("fill","none").attr("stroke","#333").attr("stroke-width",.9);
};
legendRow(thermalsLegend,241,995,1015,132.6);
legendRow(soarLegend,1478,996,1016,132.6);
txt(pB,"Soaring conditions",1451,1008,{a:"end",fs:FL});

// ---------- panel C: lapse rate ----------
const pC=svg.append("g");
const cTop=1080.4,cBot=1713;
const yC4=d3.scaleLinear().domain([500,1000]).range([cTop,cBot]);
const lineC=d3.line().x(d=>x(d[0])).y(d=>yC4(d[1]));
txt(pC,"Lapse rate / Humidity / Clouds",1125,1063,{fs:FT});
clip("cC",cTop,cBot);
const gC=pC.append("g").attr("clip-path","url(#cC)");
gC.append("rect").attr("x",L).attr("y",cTop).attr("width",R-L).attr("height",cBot-cTop).attr("fill",cBase);
lapseLayers.forEach(([pts,c,st])=>{
  gC.append("path").attr("d",lineC(pts)+"Z").attr("fill",c).attr("stroke",st?"#e8f8fc":"none").attr("stroke-width",st?.9:0);
});
[cloudA,cloudB,cloudC].forEach(pts=>gC.append("path").attr("d",lineC(pts)+"Z").attr("fill","url(#hatch)"));
hgrid(gC,yC4,[600,700,800,850,900,950]); vgrid(gC,cTop,cBot);
rhLines.forEach(([pts,c])=>gC.append("path").attr("d",lineC(pts)).attr("fill","none").attr("stroke",c).attr("stroke-width",2).attr("stroke-linejoin","round"));
gC.append("path").attr("d",lineC(blh)).attr("fill","none").attr("stroke","#fff").attr("stroke-width",3.2).attr("stroke-linejoin","round");
gC.append("path").attr("d",lineC(freezing)).attr("fill","none").attr("stroke","#fff").attr("stroke-width",8);
gC.append("path").attr("d",lineC(freezing)).attr("fill","none").attr("stroke","#b4e4f4").attr("stroke-width",4.6);
gC.append("path").attr("d",lineC(freezing)).attr("fill","none").attr("stroke","#60b8ec").attr("stroke-width",4.6).attr("stroke-dasharray","10 10");
const star=d3.symbol(d3.symbolStar).size(46)();
[starsLeft,starsRight].forEach(pts=>{
  gC.append("path").attr("d",lineC(pts)).attr("fill","none").attr("stroke","#223a50").attr("stroke-width",1.2).attr("stroke-dasharray","4 9");
  gC.selectAll(null).data(pts).join("path").attr("d",star).attr("fill","#223a50").attr("transform",d=>`translate(${x(d[0])},${yC4(d[1])})`);
});
lapseLabels.forEach(([s,h,p,r])=>txt(pC,s,x(h),yC4(p),{fs:FC,c:"#f0fbff",rot:r}));
rhLabels.forEach(([s,h,p,r,c])=>txt(pC,s,x(h),yC4(p),{fs:FC,c:c,rot:r}));
frame(pC,cTop,cBot); nowLine(pC,cTop,cBot); xaxis(pC,cBot);
function presAxes(g,sc,ty,ay){
  yaxis(g,d3.axisRight,sc,pTicks,"#000",R,null,0,5);
  altTicks.forEach((p,i)=>{
    txt(g,altM[i],236,sc(p)-11,{a:"end",fs:22});
    txt(g,altF[i],236,sc(p)+13,{a:"end",fs:22});
  });
  txt(g,"Altitude approx.",121,ay,{rot:-90,fs:23});
  txt(g,"Pressure (hPa)",2082,ty,{rot:-90,fs:23});
}
presAxes(pC,yC4,1388,1408);
const lgC=1751;
pC.append("rect").attr("x",240).attr("y",lgC-3).attr("width",21).attr("height",6).attr("fill","#000");
txt(pC,"Convective cloud base",276,lgC,{a:"start",fs:FL});
pC.append("rect").attr("x",523).attr("y",lgC-4).attr("width",21).attr("height",8).attr("fill","#fff").attr("stroke","#222").attr("stroke-width",1);
txt(pC,"Boundary layer height",559,lgC,{a:"start",fs:FL});
txt(pC,"Rel. Humidity (%): colored lines",839,lgC,{a:"start",fs:FL});
txt(pC,"0°C: dashed line",1211,lgC,{a:"start",fs:FL});
txt(pC,"Convective clouds",1415,lgC,{a:"start",fs:FL});
pC.append("rect").attr("x",1603).attr("y",lgC-7).attr("width",87).attr("height",14).attr("fill","#fff").attr("stroke","#222");
pC.selectAll(null).data(d3.range(7)).join("path").attr("d",d3.symbol(d3.symbolStar).size(26)()).attr("fill","#000").attr("transform",d=>`translate(${1610+d*12.2},${lgC})`);
txt(pC,"Cloud cover",1796,lgC,{a:"start",fs:FL});
pC.append("rect").attr("x",1920).attr("y",lgC-7).attr("width",89).attr("height",14).attr("fill","#fff");
pC.append("rect").attr("x",1920).attr("y",lgC-7).attr("width",89).attr("height",14).attr("fill","url(#hatch)").attr("stroke","#222");

// ---------- panel D: wind ----------
const pD=svg.append("g");
const dTop=1829,dBot=2462;
const yD=d3.scaleLinear().domain([500,1000]).range([dTop,dBot]);
const lineD=d3.line().x(d=>x(d[0])).y(d=>yD(d[1]));
txt(pD,"Horizontal wind / Vertical wind shear",1125,1813,{fs:FT});
clip("cD",dTop,dBot);
const gD=pD.append("g").attr("clip-path","url(#cD)");
gD.append("rect").attr("x",L).attr("y",dTop).attr("width",R-L).attr("height",dBot-dTop).attr("fill",c8);
windLayers.forEach(([pts,c])=>gD.append("path").attr("d",lineD(pts)+"Z").attr("fill",c).attr("stroke","#1c2c54").attr("stroke-width",.9));
hgrid(gD,yD,[600,700,800,850,900,950]); vgrid(gD,dTop,dBot);
const qv=arrowD(23,2.4,8,9);
arrowDirs.forEach((row,r)=>{
  gD.selectAll(null).data(row).join("path").attr("d",qv).attr("fill","#555").attr("transform",(d,i)=>`translate(${x(arrowHours[i])},${yD(arrowLevels[r])}) rotate(${d})`);
});
shearLines.forEach(([pts,c])=>gD.append("path").attr("d",lineD(pts)).attr("fill","none").attr("stroke",c).attr("stroke-width",3.4).attr("stroke-linejoin","round"));
windLabels.forEach(([s,h,p,r])=>txt(pD,s,x(h),yD(p),{fs:FC,rot:r}));
shearLabels.forEach(([s,h,p,r,c])=>txt(pD,s,x(h),yD(p),{fs:FC,c:c,rot:r}));
frame(pD,dTop,dBot); nowLine(pD,dTop,dBot); xaxis(pD,dBot);
presAxes(pD,yD,2148,2152);
txt(pD,"Last update: 2026-08-15 10:55",43,2506,{a:"start",fs:22.2,c:"#999"});
txt(pD,"Wind speed (m/s)",388,2506,{a:"start",fs:19.5});
const cb=(arr,x0,w)=>arr.forEach(([s,c],i)=>{
  pD.append("rect").attr("x",x0+i*w).attr("y",2493).attr("width",w+.3).attr("height",18.5).attr("fill",c);
  txt(pD,s,x0+i*w+w/2,2503,{fs:FL});
});
cb(speedBar,594,50.5);
txt(pD,"Wind shear (m/s per 100 m)",1356,2506,{a:"start",fs:FL});
cb(shearBar,1655,70.9);
</script></body></html>
